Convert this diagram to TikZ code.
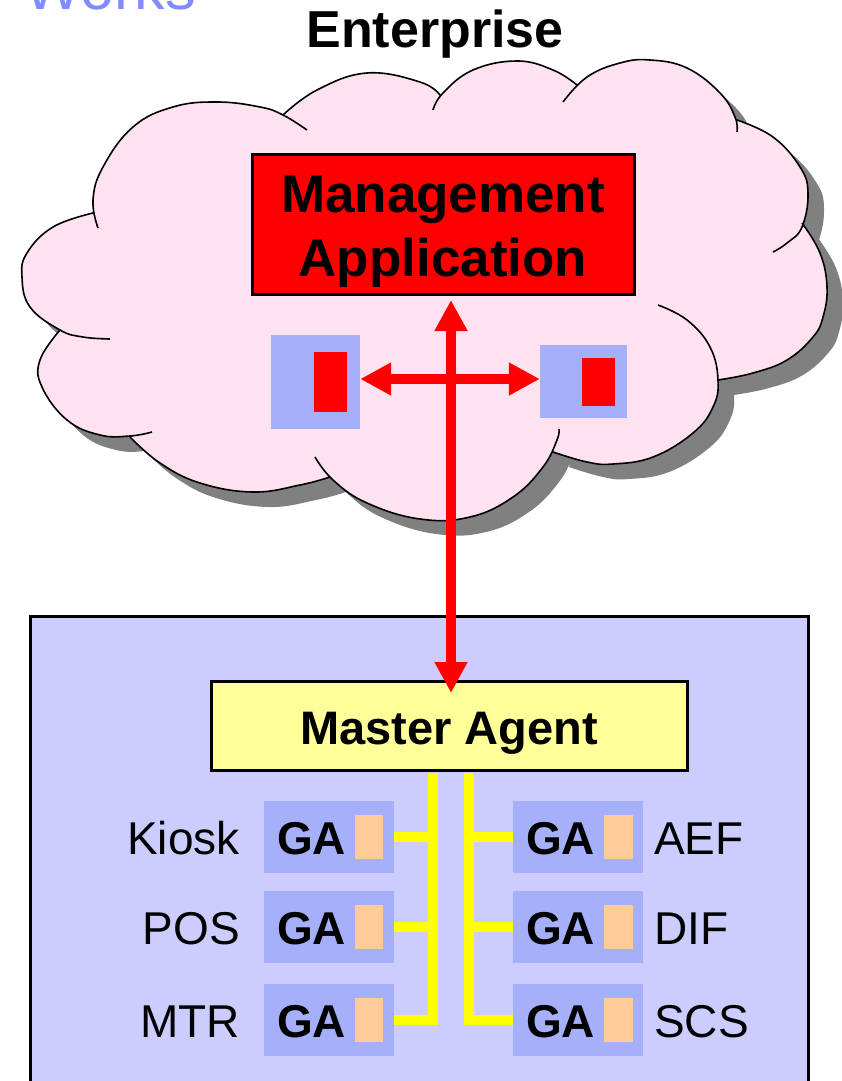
\documentclass[tikz,border=0pt]{standalone}
\usepackage{fontspec}
\setmainfont{Liberation Sans}
\usetikzlibrary{arrows.meta}
\definecolor{cloudpink}{RGB}{255,226,240}
\definecolor{shadowgray}{RGB}{128,128,128}
\definecolor{gablue}{RGB}{166,175,250}
\definecolor{enclblue}{RGB}{204,204,255}
\definecolor{mayellow}{RGB}{255,255,153}
\definecolor{busyellow}{RGB}{255,255,0}
\definecolor{gaorange}{RGB}{255,204,153}
\definecolor{worksblue}{RGB}{128,140,255}
\begin{document}
\begin{tikzpicture}[x=1pt,y=-1pt,
  cloudline/.style={draw=black, line width=1.6pt},
  mgmtbox/.style={draw=black, fill=red, line width=3pt, inner sep=0pt},
  smallbox/.style={fill=gablue, inner sep=0pt},
  redrect/.style={fill=red, inner sep=0pt},
  redarrow/.style={draw=red, line width=10pt, arrows={Triangle[length=31pt,width=31pt]-Triangle[length=31pt,width=31pt]}},
  masterbox/.style={draw=black, fill=mayellow, line width=3pt, inner sep=0pt, minimum width=476pt, minimum height=89pt},
  gabox/.style={fill=gablue, inner sep=0pt, minimum width=130pt, minimum height=72pt},
  orangerect/.style={fill=gaorange, inner sep=0pt, minimum width=28pt, minimum height=44pt},
  ybus/.style={draw=busyellow, line width=10pt},
  bigbold/.style={font=\fontsize{53}{64}\selectfont\bfseries, inner sep=0pt, anchor=base},
  gatext/.style={font=\fontsize{46}{55}\selectfont\bfseries, inner sep=0pt, anchor=base},
  lbl/.style={font=\fontsize{46}{55}\selectfont, inner sep=0pt}
]
\useasboundingbox (0,0) rectangle (842,1081);
\begin{scope}
\clip (0,0) rectangle (842,1081);
\fill[white] (0,0) rectangle (842,1081);

% partial title
\node[font=\fontsize{61}{70}\selectfont, text=worksblue, inner sep=0pt, anchor=base west] (works) at (24,10) {Works};

% Enterprise label
\node[font=\fontsize{52}{62}\selectfont\bfseries, inner sep=0pt, anchor=base] (ent) at (435,48) {Enterprise};

% cloud
\fill[cloudpink, preaction={fill=shadowgray, transform canvas={shift={(16pt,-15pt)}}}]
  plot[smooth,tension=0.7] coordinates {(98,228) (93,200) (103,167) (133,127) (173,107) (217,102) (260,107) (283,115) (307,130)}
  -- plot[smooth,tension=0.7] coordinates {(283,115) (317,90) (367,73) (420,82) (440,95)}
  -- plot[smooth,tension=0.7] coordinates {(433,110) (443,93) (473,70) (517,61) (553,70) (577,85)}
  -- plot[smooth,tension=0.7] coordinates {(563,102) (587,77) (620,63) (650,60) (687,68) (720,93) (735,117) (737,132)}
  -- plot[smooth,tension=0.7] coordinates {(737,120) (773,137) (800,167) (808,193) (802,227) (787,243) (773,252)}
  -- plot[smooth,tension=0.7] coordinates {(802,223) (820,253) (827,287) (823,317) (813,337) (787,360) (753,373) (718,380)}
  -- plot[smooth,tension=0.7] coordinates {(658,305) (687,320) (710,347) (718,380) (713,407) (693,433) (653,457) (613,464) (587,462) (553,452)}
  -- plot[smooth,tension=0.7] coordinates {(559,429) (557,440) (543,467) (513,497) (470,517) (420,519) (367,503) (333,480) (315,457)}
  -- plot[smooth,tension=0.7] coordinates {(330,477) (300,485) (253,492) (200,483) (160,463) (130,437)}
  -- plot[smooth,tension=0.7] coordinates {(152,432) (130,436) (100,435) (67,420) (42,387) (40,360) (60,330)}
  -- plot[smooth,tension=0.7] coordinates {(110,339) (83,337) (60,330) (30,307) (22,277) (27,253) (53,227) (93,213)}
  -- cycle;
\draw[cloudline]
  plot[smooth,tension=0.7] coordinates {(98,228) (93,200) (103,167) (133,127) (173,107) (217,102) (260,107) (283,115) (307,130)}
  plot[smooth,tension=0.7] coordinates {(283,115) (317,90) (367,73) (420,82) (440,95)}
  plot[smooth,tension=0.7] coordinates {(433,110) (443,93) (473,70) (517,61) (553,70) (577,85)}
  plot[smooth,tension=0.7] coordinates {(563,102) (587,77) (620,63) (650,60) (687,68) (720,93) (735,117) (737,132)}
  plot[smooth,tension=0.7] coordinates {(737,120) (773,137) (800,167) (808,193) (802,227) (787,243) (773,252)}
  plot[smooth,tension=0.7] coordinates {(802,223) (820,253) (827,287) (823,317) (813,337) (787,360) (753,373) (718,380)}
  plot[smooth,tension=0.7] coordinates {(658,305) (687,320) (710,347) (718,380) (713,407) (693,433) (653,457) (613,464) (587,462) (553,452)}
  plot[smooth,tension=0.7] coordinates {(559,429) (557,440) (543,467) (513,497) (470,517) (420,519) (367,503) (333,480) (315,457)}
  plot[smooth,tension=0.7] coordinates {(330,477) (300,485) (253,492) (200,483) (160,463) (130,437)}
  plot[smooth,tension=0.7] coordinates {(152,432) (130,436) (100,435) (67,420) (42,387) (40,360) (60,330)}
  plot[smooth,tension=0.7] coordinates {(110,339) (83,337) (60,330) (30,307) (22,277) (27,253) (53,227) (93,213)};

% management application
\node[mgmtbox, minimum width=382pt, minimum height=140pt] (mgmt) at (443,224) {};
\node[bigbold] (mgmt1) at (443,212) {Management};
\node[bigbold] (mgmt2) at (443,276) {Application};

% small boxes in the cloud
\node[smallbox, minimum width=89pt, minimum height=94pt] (lbox) at (315.5,382) {};
\node[redrect, minimum width=33pt, minimum height=60pt] (lred) at (330.5,382) {};
\node[smallbox, minimum width=87pt, minimum height=73pt] (rbox) at (583.5,381.5) {};
\node[redrect, minimum width=33pt, minimum height=48pt] (rred) at (598.5,382) {};

% enclosure
\draw[fill=enclblue, draw=black, line width=3pt] (30,616) rectangle (808,1110);

% master agent
\node[masterbox] (master) at (449,725.5) {};
\node[gatext, font=\fontsize{47}{56}\selectfont\bfseries] (mastertext) at (449,744) {Master Agent};

% arrows
\coordinate (hy) at (0,379);
\draw[redarrow] (lbox.east |- hy) -- (rbox.west |- hy);
\coordinate (vt) at (451,300);
\coordinate (vb) at (451,693);
\draw[redarrow] (vt) -- (vb);

% GA boxes
\foreach \n/\y in {1/837,2/927,3/1020}{
  \node[gabox] (gaL\n) at (329,\y) {};
  \node[gatext] at (311.5,\y+17) {GA};
  \node[orangerect] at (369,\y) {};
  \node[gabox] (gaR\n) at (578,\y) {};
  \node[gatext] at (560.5,\y+17) {GA};
  \node[orangerect, minimum width=29pt] at (618.5,\y) {};
}
\node[lbl, anchor=base east] at (240,854) {Kiosk};
\node[lbl, anchor=base east] at (240,944) {POS};
\node[lbl, anchor=base east] at (240,1037) {MTR};
\node[lbl, anchor=base west] at (654,854) {AEF};
\node[lbl, anchor=base west] at (654,944) {DIF};
\node[lbl, anchor=base west] at (654,1037) {SCS};

% yellow bus
\coordinate (lt) at (433,800);
\coordinate (rt) at (469,800);
\draw[ybus, shorten <=1.5pt] (master.south -| lt) |- (gaL3.east);
\draw[ybus, shorten <=1.5pt] (master.south -| rt) |- (gaR3.west);
\draw[ybus] (gaL1.east) -- (gaL1.east -| lt);
\draw[ybus] (gaL2.east) -- (gaL2.east -| lt);
\draw[ybus] (gaR1.west) -- (gaR1.west -| rt);
\draw[ybus] (gaR2.west) -- (gaR2.west -| rt);
\end{scope}
\end{tikzpicture}
\end{document}
